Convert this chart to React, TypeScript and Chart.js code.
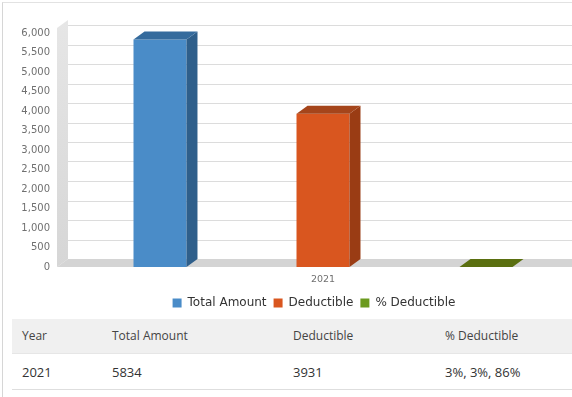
import React, { useEffect, useRef } from "react";
import { Chart, registerables } from "chart.js";

Chart.register(...registerables);

// ---- data ----
const categories = ["2021"];
const seriesNames = ["Total Amount", "Deductible", "% Deductible"];
const totalAmount = [5834];
const deductible = [3931];
const pctDeductible = [3];
const yMax = 6000;
const yStep = 500;
const tableHeaders = ["Year", "Total Amount", "Deductible", "% Deductible"];
const tableRows = [["2021", "5834", "3931", "3%, 3%, 86%"]];

// ---- styles ----
const FRONT = ["#4a8cc8", "#d9561f", "#6b9a1f"];
const SIDE = ["#2f5f8b", "#9a3c14", "#44600c"];
const TOP = ["#356b9d", "#a5451b", "#5a6f10"];
const DX = 11;
const DY = 8;
const FONT = "'DejaVu Sans', sans-serif";

const threeD = {
  id: "threeD",
  afterLayout(chart: any) {
    if (chart.legend) {
      chart.legend.left += 28;
      chart.legend.right += 28;
    }
  },
  beforeDatasetsDraw(chart: any) {
    const { ctx, chartArea, scales } = chart;
    const ys = scales.y;
    const wallX = chartArea.left - 17;
    const right = chart.width;
    const y0 = ys.getPixelForValue(0);
    const yTop = ys.getPixelForValue(yMax);
    ctx.save();
    // left wall
    const g = ctx.createLinearGradient(0, yTop - DY - 5, 0, y0);
    g.addColorStop(0, "#e6e6e6");
    g.addColorStop(1, "#d6d6d6");
    ctx.fillStyle = g;
    ctx.beginPath();
    ctx.moveTo(wallX, y0);
    ctx.lineTo(wallX + DX, y0 - DY);
    ctx.lineTo(wallX + DX, yTop - DY - 5);
    ctx.lineTo(wallX, yTop - 5);
    ctx.closePath();
    ctx.fill();
    // floor
    ctx.fillStyle = "#d4d4d4";
    ctx.beginPath();
    ctx.moveTo(wallX, y0);
    ctx.lineTo(right, y0);
    ctx.lineTo(right, y0 - DY);
    ctx.lineTo(wallX + DX, y0 - DY);
    ctx.closePath();
    ctx.fill();
    // back gridlines
    ctx.strokeStyle = "#dcdcdc";
    ctx.lineWidth = 1;
    for (let v = yStep; v <= yMax; v += yStep) {
      const py = Math.round(ys.getPixelForValue(v) - DY) + 0.5;
      ctx.beginPath();
      ctx.moveTo(wallX + DX, py);
      ctx.lineTo(right, py);
      ctx.stroke();
    }
    ctx.restore();
  },
  afterDatasetsDraw(chart: any) {
    const { ctx } = chart;
    ctx.save();
    chart.data.datasets.forEach((_ds: any, i: number) => {
      const meta = chart.getDatasetMeta(i);
      meta.data.forEach((bar: any) => {
        const { x, y, base, width } = bar.getProps(["x", "y", "base", "width"], true);
        const l = x - width / 2;
        const r = x + width / 2;
        ctx.fillStyle = SIDE[i];
        ctx.beginPath();
        ctx.moveTo(r, y);
        ctx.lineTo(r + DX, y - DY);
        ctx.lineTo(r + DX, base - DY);
        ctx.lineTo(r, base);
        ctx.closePath();
        ctx.fill();
        ctx.fillStyle = TOP[i];
        ctx.beginPath();
        ctx.moveTo(l, y);
        ctx.lineTo(l + DX, y - DY);
        ctx.lineTo(r + DX, y - DY);
        ctx.lineTo(r, y);
        ctx.closePath();
        ctx.fill();
      });
    });
    ctx.restore();
  },
};

export default function App() {
  const ref = useRef<HTMLCanvasElement | null>(null);
  useEffect(() => {
    if (!ref.current) return;
    const seriesData = [totalAmount, deductible, pctDeductible];
    const chart = new Chart(ref.current, {
      type: "bar",
      data: {
        labels: categories,
        datasets: seriesNames.map((name, i) => ({
          label: name,
          data: seriesData[i],
          backgroundColor: FRONT[i],
          borderWidth: 0,
          categoryPercentage: 0.982,
          barPercentage: 0.325,
        })),
      },
      options: {
        animation: false,
        responsive: false,
        layout: { padding: { top: 33, left: 0, right: 0, bottom: 0 } },
        plugins: {
          tooltip: { enabled: false },
          legend: {
            position: "bottom",
            labels: {
              boxWidth: 9,
              boxHeight: 9,
              padding: 7,
              color: "#333",
              font: { family: FONT, size: 12 },
            },
          },
        },
        scales: {
          x: {
            grid: { display: false, drawTicks: false },
            border: { display: false },
            ticks: { color: "#707070", font: { family: FONT, size: 9.5 }, padding: 7 },
            afterFit: (s: any) => {
              s.height = 23;
            },
          },
          y: {
            min: 0,
            max: yMax,
            grid: { display: false, drawTicks: false },
            border: { display: false },
            ticks: {
              stepSize: yStep,
              color: "#707070",
              padding: 24,
              font: { family: FONT, size: 10 },
              callback: (v: any) => Number(v).toLocaleString("en-US"),
            },
            afterFit: (s: any) => {
              s.width = 74;
            },
          },
        },
      },
      plugins: [threeD],
    });
    return () => chart.destroy();
  }, []);

  const colW = [90, 181, 152, 137];
  return (
    <div style={{ position: "absolute", left: 0, top: 0, width: 572, height: 397, overflow: "hidden", background: "#fff" }}>
      <div
        style={{
          position: "absolute",
          left: 2,
          top: 2,
          width: 580,
          height: 400,
          borderLeft: "1px solid #d6d6d6",
          borderTop: "1px solid #e2e2e2",
        }}
      />
      <canvas ref={ref} width={572} height={319} style={{ position: "absolute", left: 0, top: 0, width: 572, height: 319 }} />
      <table
        style={{
          position: "absolute",
          left: 12,
          top: 319,
          width: 560,
          borderCollapse: "collapse",
          tableLayout: "fixed",
          fontFamily: "'Open Sans', sans-serif",
        }}
      >
        <colgroup>
          {colW.map((w, i) => (
            <col key={i} style={{ width: w }} />
          ))}
        </colgroup>
        <thead>
          <tr style={{ background: "#f0f0f0", height: 34 }}>
            {tableHeaders.map((h) => (
              <th
                key={h}
                style={{
                  textAlign: "left",
                  fontWeight: "normal",
                  fontSize: 12,
                  color: "#444",
                  padding: "0 0 0 10px",
                  borderBottom: "1px solid #e6e6e6",
                }}
              >
                {h}
              </th>
            ))}
          </tr>
        </thead>
        <tbody>
          {tableRows.map((row, ri) => (
            <tr key={ri} style={{ height: 36 }}>
              {row.map((c, ci) => (
                <td
                  key={ci}
                  style={{
                    fontSize: 13,
                    color: "#333",
                    padding: "2px 0 0 10px",
                    borderBottom: "1px solid #dedede",
                  }}
                >
                  {c}
                </td>
              ))}
            </tr>
          ))}
        </tbody>
      </table>
    </div>
  );
}
